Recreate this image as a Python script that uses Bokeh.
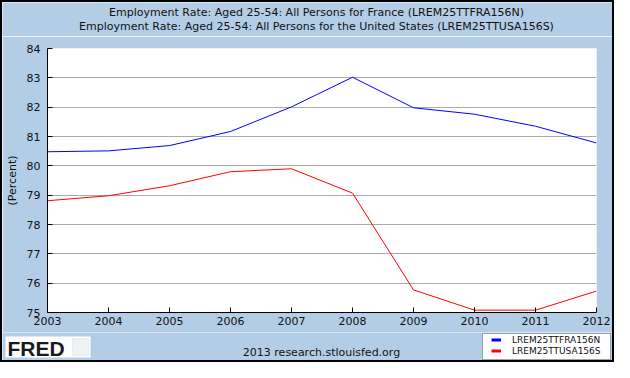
from bokeh.plotting import figure
from bokeh.layouts import column
from bokeh.models import (FixedTicker, Label, Legend, LegendItem, ColumnDataSource,
                          Range1d, BoxAnnotation)
from bokeh.embed import file_html
from bokeh.resources import INLINE

years = [2003, 2004, 2005, 2006, 2007, 2008, 2009, 2010, 2011, 2012]
france = [80.48, 80.51, 80.69, 81.17, 82.01, 83.02, 81.98, 81.76, 81.35, 80.78]
usa = [78.81, 78.98, 79.32, 79.80, 79.90, 79.07, 75.77, 75.08, 75.08, 75.73]
y_ticks = [75, 76, 77, 78, 79, 80, 81, 82, 83, 84]
title1 = "Employment Rate: Aged 25-54: All Persons for France (LREM25TTFRA156N)"
title2 = "Employment Rate: Aged 25-54: All Persons for the United States (LREM25TTUSA156S)"
series_names = ["LREM25TTFRA156N", "LREM25TTUSA156S"]
series_colors = ["#0000FF", "#FF0000"]
footer = "2013 research.stlouisfed.org"

BG = "#B4CDE6"
FONT = "DejaVu Sans"
TXT = "#111111"
W = 610  # inner width (plus 2px border each side = 614)


def strip(height):
    """A plain strip figure whose data units equal pixels (y up)."""
    s = figure(width=W, height=height, output_backend="svg", toolbar_location=None,
               x_range=Range1d(0, W), y_range=Range1d(0, height),
               min_border=0, min_border_left=0, min_border_right=0,
               min_border_top=0, min_border_bottom=0)
    s.frame_align = False
    s.axis.visible = False
    s.grid.visible = False
    s.outline_line_color = None
    s.background_fill_color = BG
    s.border_fill_color = BG
    return s


src = ColumnDataSource(dict(year=years, fra=france, usa=usa))

# ---- title strip ----
H0 = 34
p0 = strip(H0)
for txt, top in ((title1, 10), (title2, 24)):
    p0.add_layout(Label(x=314, y=H0 - top, text=txt, text_align="center",
                        text_baseline="middle", text_font=FONT,
                        text_font_size="11px", text_color=TXT))

# ---- main chart ----
LEFT, RIGHT, TOP, BOTTOM = 45, 16, 12, 20
H1 = 296
p = figure(width=W, height=H1, output_backend="svg", toolbar_location=None,
           x_range=Range1d(2003, 2012), y_range=Range1d(75, 84),
           min_border_left=LEFT, min_border_right=RIGHT,
           min_border_top=TOP, min_border_bottom=BOTTOM)
p.frame_align = False
p.background_fill_color = "white"
p.border_fill_color = BG
p.outline_line_color = None

p.line("year", "fra", source=src, line_color=series_colors[0], line_width=1)
p.line("year", "usa", source=src, line_color=series_colors[1], line_width=1)

for ax in (p.xaxis[0], p.yaxis[0]):
    ax.axis_line_color = "black"
    ax.major_tick_line_color = "black"
    ax.major_tick_in = 5
    ax.major_tick_out = 0
    ax.minor_tick_line_color = None
    ax.major_label_text_font = FONT
    ax.major_label_text_font_size = "11px"
    ax.major_label_text_color = TXT
p.xaxis.ticker = FixedTicker(ticks=years)
p.yaxis.ticker = FixedTicker(ticks=y_ticks)
p.xaxis.major_label_standoff = 4
p.xaxis.axis_label_standoff = 0
p.yaxis.major_label_standoff = 7
p.yaxis.axis_label = "(Percent)"
p.yaxis.axis_label_text_font = FONT
p.yaxis.axis_label_text_font_size = "11px"
p.yaxis.axis_label_text_font_style = "normal"
p.yaxis.axis_label_text_color = TXT
p.yaxis.axis_label_standoff = 5

p.xgrid.grid_line_color = None
p.ygrid.grid_line_color = "#AAAAAA"
p.ygrid.ticker = FixedTicker(ticks=y_ticks)

# ---- bottom strip: logo, source line, legend ----
H2 = 28
p2 = strip(H2)

# FRED logo
p2.add_layout(BoxAnnotation(left=3, right=88, bottom=3, top=24,
                            fill_color="white", fill_alpha=1, line_color=None))
p2.add_layout(Label(x=5, y=12, text="FRED", text_align="left", text_baseline="middle",
                    text_font="Liberation Sans", text_font_size="21px",
                    text_font_style="bold", text_color="#1a1a1a"))
p2.add_layout(BoxAnnotation(left=70, right=86, bottom=5, top=22,
                            fill_color="#EEF2F0", fill_alpha=1, line_color="#C8D0CC"))

# source line
p2.add_layout(Label(x=319, y=8, text=footer, text_align="center",
                    text_baseline="middle", text_font=FONT,
                    text_font_size="11px", text_color=TXT))

# legend box + legend (legend glyphs come from the real series, drawn off-frame here)
p2.add_layout(BoxAnnotation(left=480, right=608, bottom=1, top=27,
                            fill_color="white", fill_alpha=1,
                            line_color="black", line_width=1))
proxies = [p2.line("year", col, source=src, line_color=c, line_width=3)
           for col, c in (("fra", series_colors[0]), ("usa", series_colors[1]))]
legend = Legend(items=[LegendItem(label=n, renderers=[r]) for n, r in zip(series_names, proxies)],
                location=(489, 4), padding=0, spacing=0, margin=0,
                glyph_width=10, glyph_height=11, label_height=11, label_standoff=11,
                label_text_font=FONT, label_text_font_size="9px",
                label_text_color=TXT, border_line_color=None,
                background_fill_alpha=0)
p2.add_layout(legend)

layout = column(p0, p, p2, spacing=0)
layout.styles = {"border": "2px solid black", "box-sizing": "content-box"}

open("out.html", "w").write(file_html(layout, INLINE))
